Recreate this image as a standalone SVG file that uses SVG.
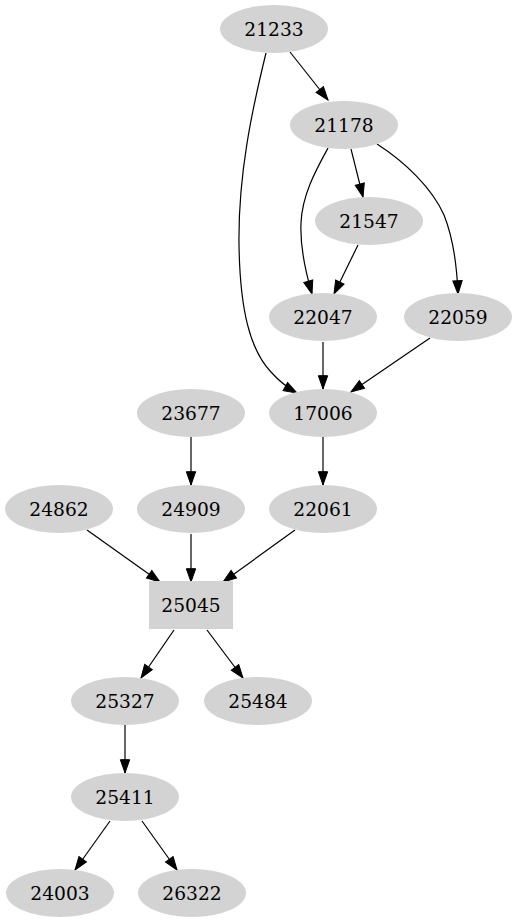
<svg xmlns="http://www.w3.org/2000/svg" width="517" height="923" viewBox="0 0 517 923">
<style>
.n ellipse, .n rect { fill: #d3d3d3; stroke: none; }
.n text { font-family: "DejaVu Serif", "Liberation Serif", serif; font-size: 18.67px; text-anchor: middle; fill: #000; }
#edges path { fill: none; stroke: #000; stroke-width: 1.2; marker-end: url(#arr); }
</style>
<defs>
<marker id="arr" markerUnits="userSpaceOnUse" markerWidth="16" markerHeight="12" refX="13.3" refY="0" viewBox="-1 -6 16 12" orient="auto">
<path d="M0,-4.67 L13.3,0 L0,4.67 z" fill="#000" stroke="#000" stroke-width="1"/>
</marker>
</defs>
<rect width="517" height="923" fill="#fff"/>
<g id="edges">
<path d="M290,52 L328,100"/>
<path d="M266,53 C252,110 238,175 239,245 C240,310 250,350 271,372 C279,381 288,388 297,393"/>
<path d="M328,148 C316,170 302,195 301,223 C300,245 305,270 312,294"/>
<path d="M351,149 L363,197"/>
<path d="M377,144 C405,162 432,188 444,215 C454,240 457,268 458,294"/>
<path d="M358,245 L334,294"/>
<path d="M323,342 L323,389"/>
<path d="M430,338 L351,392"/>
<path d="M323,437 L323,485"/>
<path d="M191,437 L191,485"/>
<path d="M87,530 L160,582"/>
<path d="M191,534 L191,582"/>
<path d="M295,530 L223,582"/>
<path d="M174,630 L141,678"/>
<path d="M207,630 L243,678"/>
<path d="M125,725 L125,773"/>
<path d="M110,821 L75,870"/>
<path d="M142,821 L177,870"/>
</g>
<g id="n21233" class="n"><ellipse cx="274" cy="29" rx="54" ry="24"/><text x="274" y="35.5">21233</text></g>
<g id="n21178" class="n"><ellipse cx="344" cy="125" rx="54" ry="24"/><text x="344" y="131.5">21178</text></g>
<g id="n21547" class="n"><ellipse cx="369" cy="221" rx="54" ry="24"/><text x="369" y="227.5">21547</text></g>
<g id="n22047" class="n"><ellipse cx="323" cy="317" rx="54" ry="24"/><text x="323" y="323.5">22047</text></g>
<g id="n22059" class="n"><ellipse cx="458" cy="317" rx="54" ry="24"/><text x="458" y="323.5">22059</text></g>
<g id="n17006" class="n"><ellipse cx="323" cy="413" rx="54" ry="24"/><text x="323" y="419.5">17006</text></g>
<g id="n23677" class="n"><ellipse cx="191" cy="413" rx="54" ry="24"/><text x="191" y="419.5">23677</text></g>
<g id="n24862" class="n"><ellipse cx="59" cy="509" rx="54" ry="24"/><text x="59" y="515.5">24862</text></g>
<g id="n24909" class="n"><ellipse cx="191" cy="509" rx="54" ry="24"/><text x="191" y="515.5">24909</text></g>
<g id="n22061" class="n"><ellipse cx="323" cy="509" rx="54" ry="24"/><text x="323" y="515.5">22061</text></g>
<g id="n25045" class="n"><rect x="149" y="581" width="84" height="48"/><text x="191" y="611.5">25045</text></g>
<g id="n25327" class="n"><ellipse cx="125" cy="701" rx="54" ry="24"/><text x="125" y="707.5">25327</text></g>
<g id="n25484" class="n"><ellipse cx="258" cy="701" rx="54" ry="24"/><text x="258" y="707.5">25484</text></g>
<g id="n25411" class="n"><ellipse cx="125" cy="797" rx="54" ry="24"/><text x="125" y="803.5">25411</text></g>
<g id="n24003" class="n"><ellipse cx="60" cy="893" rx="54" ry="24"/><text x="60" y="899.5">24003</text></g>
<g id="n26322" class="n"><ellipse cx="192" cy="893" rx="54" ry="24"/><text x="192" y="899.5">26322</text></g>
</svg>
